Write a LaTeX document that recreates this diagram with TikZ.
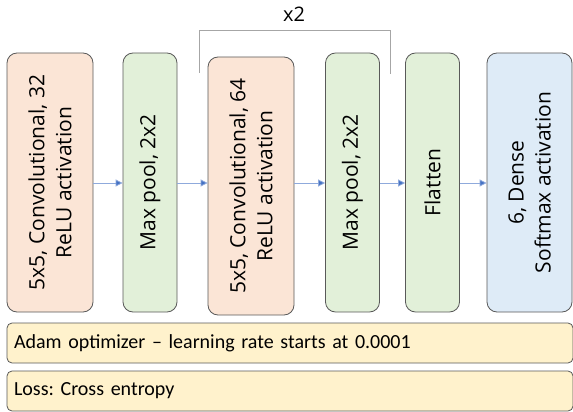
\documentclass[tikz,border=0pt]{standalone}
\usepackage{fontspec}
\setmainfont{Open Sans}
\newfontfamily\notefont{Carlito}
\usetikzlibrary{arrows.meta}
\definecolor{convfill}{HTML}{FBE5D6}
\definecolor{poolfill}{HTML}{E2F0D9}
\definecolor{densefill}{HTML}{DEEBF7}
\definecolor{notefill}{HTML}{FFF2CC}
\definecolor{edgegray}{HTML}{595959}
\definecolor{flowblue}{HTML}{4472C4}
\definecolor{bracketgray}{HTML}{A6A6A6}
\frenchspacing
\tikzset{
  layerbox/.style={draw=edgegray, line width=0.8pt, rounded corners=10pt, minimum height=259pt},
  convbox/.style={layerbox, fill=convfill, minimum width=86pt},
  poolbox/.style={layerbox, fill=poolfill, minimum width=54pt},
  densebox/.style={layerbox, fill=densefill, minimum width=85pt},
  layertext/.style={rotate=90, align=center, inner sep=0pt, font=\fontsize{21}{27}\selectfont},
  notebox/.style={draw=edgegray, line width=0.8pt, rounded corners=5pt, fill=notefill,
    minimum width=566pt, minimum height=40pt, text width=552pt, align=left,
    font=\notefont\fontsize{20}{22}\selectfont},
  flow/.style={draw=flowblue!60, line width=0.8pt, -{Triangle[length=7pt,width=7pt,fill=flowblue]}},
}
\begin{document}
\begin{tikzpicture}[x=1pt,y=-1pt]
\useasboundingbox (0,0) rectangle (573,412);
% layer stack
\node[convbox]  (c1) at (50,182.5) {};
\node[layertext] at (c1.center) {5x5, Convolutional, 32\\ReLU activation};
\node[poolbox]  (p1) at (150,182.5) {};
\node[layertext] at (p1.center) {Max pool, 2x2};
\node[convbox, minimum height=258pt]  (c2) at (251,186) {};
\node[layertext] at (c2.center) {5x5, Convolutional, 64\\ReLU activation};
\node[poolbox]  (p2) at (352.5,182.5) {};
\node[layertext] at (p2.center) {Max pool, 2x2};
\node[poolbox]  (fl) at (432.5,182.5) {};
\node[layertext] at (fl.center) {Flatten};
\node[densebox] (d1) at (529.5,182.5) {};
\node[layertext] at (d1.center) {6, Dense\\Softmax activation};
% forward flow between layers
\draw[flow] (c1.east |- 0,183) -- (p1.west |- 0,183);
\draw[flow] (p1.east |- 0,183) -- (c2.west |- 0,183);
\draw[flow] (c2.east |- 0,183) -- (p2.west |- 0,183);
\draw[flow] (p2.east |- 0,183) -- (fl.west |- 0,183);
\draw[flow] (fl.east |- 0,183) -- (d1.west |- 0,183);
% repeated block bracket
\coordinate (bl) at (199,73);
\coordinate (br) at (390,74);
\draw[bracketgray, line width=0.8pt] (bl) -- (bl |- 0,30) -- (br |- 0,30) -- (br);
\node[font=\fontsize{20}{22}\selectfont] (rep) at (294,14) {x2};
% training settings
\node[notebox] (opt)  at (290,343) {Adam optimizer – learning rate starts at 0.0001};
\node[notebox] (loss) at (290,391) {Loss: Cross entropy};
\end{tikzpicture}
\end{document}
